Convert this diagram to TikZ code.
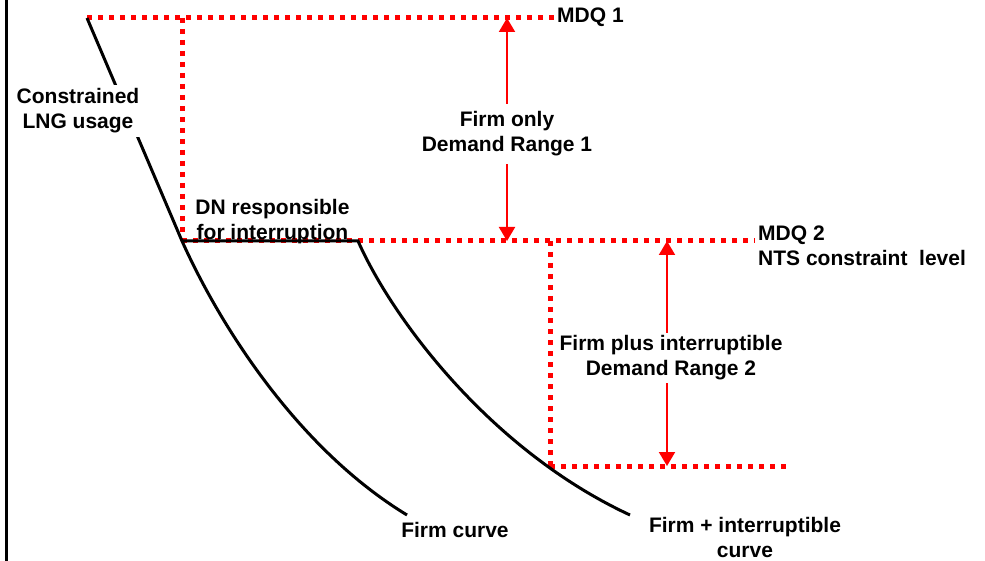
\documentclass[tikz,border=0pt]{standalone}
\usepackage{fontspec}
\setmainfont{Liberation Sans}
\usetikzlibrary{arrows.meta}

\begin{document}
\begin{tikzpicture}[x=1pt,y=-1pt,
    level/.style={red,line width=5pt,dash pattern=on 5pt off 6pt},
    demand/.style={black,line width=3pt},
    spanarrow/.style={red,line width=2pt,{Triangle[width=16pt,length=14pt]}-{Triangle[width=16pt,length=14pt]}},
    lbl/.style={font=\fontsize{21}{25}\selectfont\bfseries,align=center,inner sep=3pt}]
    \useasboundingbox (0,0) rectangle (985,561);
    \draw [line width=2.5pt,black] (6.5,0) -- (6.5,561);
    \coordinate (top) at (87,18);
    \coordinate (cornerone) at (182,18);
    \coordinate (knee) at (182,241);
    \coordinate (shoulder) at (358,241);
    \coordinate (droptop) at (550,241);
    \coordinate (drop) at (550,466);
    \coordinate (floor) at (790,466);
    \coordinate (onehigh) at (507,18);
    \coordinate (onelow) at (507,241);
    \coordinate (twohigh) at (667,241);
    \coordinate (twolow) at (667,466);
    \coordinate (firmend) at (407,515);
    \coordinate (firmintend) at (630,515);
    \node [lbl,anchor=west] (mdqone) at (554,17) {MDQ 1};
    \node [lbl,anchor=west,align=left] (mdqtwo) at (755,245.5) {MDQ 2\\NTS constraint\ \ level};
    % levels
    \foreach \a/\b in {top/mdqone.west |- top, cornerone/knee, knee/mdqtwo.west |- knee, droptop/drop, drop/floor} {
        \draw [level] (\a) -- (\b);
    }
    % demand curves
    \draw [demand] (top) -- (knee) .. controls (222,330) and (300,450) .. (firmend);
    \draw [demand] (knee) -- (shoulder) .. controls (392,318) and (490,450) .. (firmintend);
    % ranges
    \draw [spanarrow] (onelow) -- (onehigh);
    \draw [spanarrow] (twolow) -- (twohigh);
    \node [lbl,fill=white,inner sep=4pt] (lng) at (78,111) {Constrained\\LNG usage};
    \node [lbl] (dn) at (272.5,221.5) {DN responsible\\for interruption};
    \node [lbl,fill=white,inner ysep=8pt] (rangeone) at (507,134) {Firm only\\Demand Range 1};
    \node [lbl,fill=white,inner xsep=7pt] (rangetwo) at (671,358) {Firm plus interruptible\\Demand Range 2};
    \node [lbl] (firm) at (455,530) {Firm curve};
    \node [lbl] (firmint) at (745,537) {Firm + interruptible\\curve};
\end{tikzpicture}
\end{document}
